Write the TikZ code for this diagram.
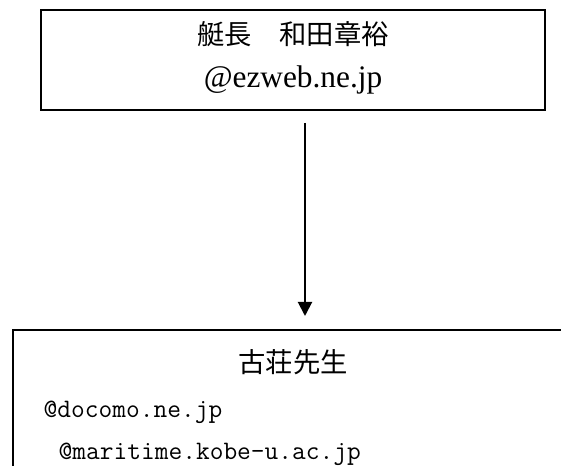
\documentclass[tikz,border=0pt]{standalone}
\usepackage{fontspec}
\usepackage{tikz}
\newfontfamily\jpfont{Noto Sans CJK JP}
\newfontfamily\mailfont{Liberation Serif}
\usetikzlibrary{arrows.meta}

\begin{document}
\begin{tikzpicture}[x=0.75pt, y=-0.75pt,
    box/.style={draw, line width=2pt, inner sep=0pt, outer sep=0pt},
    jptext/.style={font=\jpfont\fontsize{20.5}{24}\selectfont},
    mailtext/.style={font=\mailfont\fontsize{23.5}{27}\selectfont},
    monotext/.style={font=\ttfamily\fontsize{20}{24}\selectfont, anchor=base west},
    sendarrow/.style={line width=1.5pt, -{Triangle[width=10.5pt, length=10.5pt]}}]
  \useasboundingbox (0,0) rectangle (561,466);
  \clip (0,0) rectangle (561,466);
  % sender
  \node [box, minimum width=378pt, minimum height=75pt] (captain) at (293,60) {};
  \node [jptext] (captainname) at (293,34) {艇長　和田章裕};
  \node [mailtext] (captainmail) at (293,80) {@ezweb.ne.jp};
  % receiver, runs off the page
  \node [box, anchor=north west, minimum width=450pt, minimum height=150pt] (teacher) at (13,330) {};
  \node [jptext] (teachername) at (293,362) {古荘先生};
  \node [monotext] (teachermail) at (39,418) {@docomo.ne.jp};
  \node [monotext] (teacheruni) at (54,460) {@maritime.kobe-u.ac.jp};
  % mail goes down
  \coordinate (arrowx) at (305,0);
  \draw [sendarrow, shorten <=9.75pt, shorten >=10.5pt] (captain.south -| arrowx) -- (teacher.north -| arrowx);
\end{tikzpicture}
\end{document}
